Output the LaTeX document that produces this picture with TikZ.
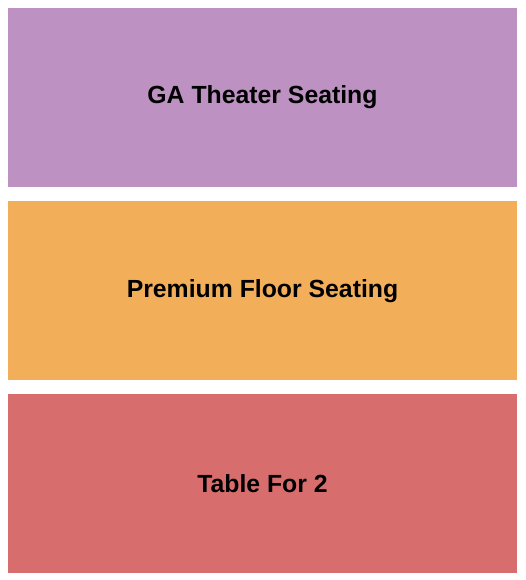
\documentclass[tikz,border=0pt]{standalone}
\usepackage{fontspec}
\setmainfont{Liberation Sans}
\usepackage{tikz}
\usetikzlibrary{positioning}
\definecolor{gapurple}{RGB}{189,145,194}
\definecolor{premorange}{RGB}{243,174,90}
\definecolor{tablered}{RGB}{215,110,109}

\begin{document}
\begin{tikzpicture}[x=1pt,y=-1pt]
\tikzstyle{section}=[rectangle,draw=none,minimum width=509pt,minimum height=179pt,inner sep=0pt,font=\fontsize{24.8}{28}\selectfont\bfseries]
\useasboundingbox (0,0) rectangle (525,580);
\node[section,fill=gapurple] (ga) at (262.5,97.5) {GA Theater Seating};
\node[section,fill=premorange,below=14pt of ga] (premium) {Premium Floor Seating};
\node[section,fill=tablered,below=13pt of premium] (table) {Table For 2};
\end{tikzpicture}
\end{document}
